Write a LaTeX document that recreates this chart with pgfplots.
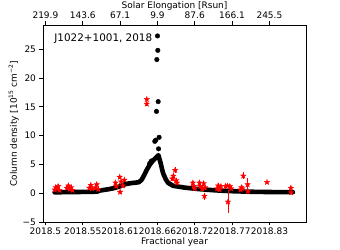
\documentclass[border=0pt]{standalone}
\usepackage{pgfplots}
\pgfplotsset{compat=1.18}
\usepackage{fontspec}
\setmainfont{DejaVu Sans}
\pgfdeclareplotmark{fstar}{%
  \pgfpathmoveto{\pgfqpointpolar{90}{\pgfplotmarksize}}%
  \pgfpathlineto{\pgfqpointpolar{126}{0.4\pgfplotmarksize}}%
  \pgfpathlineto{\pgfqpointpolar{162}{\pgfplotmarksize}}%
  \pgfpathlineto{\pgfqpointpolar{198}{0.4\pgfplotmarksize}}%
  \pgfpathlineto{\pgfqpointpolar{234}{\pgfplotmarksize}}%
  \pgfpathlineto{\pgfqpointpolar{270}{0.4\pgfplotmarksize}}%
  \pgfpathlineto{\pgfqpointpolar{306}{\pgfplotmarksize}}%
  \pgfpathlineto{\pgfqpointpolar{342}{0.4\pgfplotmarksize}}%
  \pgfpathlineto{\pgfqpointpolar{18}{\pgfplotmarksize}}%
  \pgfpathlineto{\pgfqpointpolar{54}{0.4\pgfplotmarksize}}%
  \pgfpathclose\pgfusepathqfillstroke}
\begin{document}
\begin{tikzpicture}[font=\fontsize{9}{10.5}\selectfont]
\pgfplotsset{common/.style={
  scale only axis, width=263pt, height=197pt,
  xmin=-1.3, xmax=139.6, ymin=-5, ymax=29.2,
  xtick={0,20,40,60,80,100,120},
  tick align=outside, major tick length=3.5pt,
  tick style={black, line width=0.6pt},
  axis line style={line width=0.6pt},
  /pgf/number format/assume math mode=true,
  tick label style={font=\fontsize{9}{10.5}\selectfont},
  label style={font=\fontsize{9}{10.5}\selectfont},
}}
\begin{axis}[common,
  xticklabels={2018.5,2018.55,2018.61,2018.66,2018.72,2018.77,2018.83},
  ytick={-5,0,5,10,15,20,25},
  yticklabels={−5,0,5,10,15,20,25},
  xtick pos=bottom, ytick pos=left,
  xticklabel style={yshift=1pt},
  xlabel={Fractional year},
  ylabel={Column density [10\textsuperscript{15} cm\textsuperscript{−2}]},
  xlabel style={yshift=4.5pt},
  ylabel style={yshift=-3pt},
  clip=false]
\coordinate (bl) at (rel axis cs:0,0);
\coordinate (tr) at (rel axis cs:1,1);
% model band
\addplot[black, line width=4.6pt, line cap=round, line join=round] coordinates {
(4.9,0.15)(10,0.18)(15,0.2)(20,0.22)(26,0.25)(28,0.3)(29,0.45)(31,0.55)(34,0.7)
(37,0.9)(40,1.2)(42,1.45)(43,1.6)(46,1.75)(50,1.9)(51.5,2.3)(53,3.2)(54.2,4.0)
(56,5.0)(57.5,5.6)(59,6.1)(60.5,6.6)(61.5,5.5)(63,3.5)(64.5,2.4)(65.7,1.8)
(68.3,1.3)(70,1.2)(72,1.1)(75,0.95)(78,0.85)(82,0.72)(86,0.62)
(90,0.52)(95,0.42)(100,0.35)(105,0.3)(110,0.25)(120,0.2)(132.6,0.18)};
% outlier points
\addplot[only marks, mark=*, mark size=2.3pt, black] coordinates {
(60.05,27.3)(60.2,24.8)(59.7,23.2)(60.4,15.9)(59.5,14.2)(60.9,9.7)(59.1,9.2)
(58.6,9.0)(60.6,7.7)(56.3,5.3)(55.8,5.1)(56.8,5.6)};
% red measurements
\addplot[only marks, red, mark=fstar, mark size=2.9pt, line width=0.3pt,
  error bars/.cd, y dir=both, y explicit, error bar style={red, line width=0.9pt}, error mark=none]
  table[x=x, y=y, y error=e] {
x y e
5.0 0.6 0.3
5.5 1.0 0.4
6.2 0.8 0.3
6.8 1.2 0.4
7.5 0.5 0.3
11.5 0.9 0.4
12.3 1.3 0.4
13.0 0.7 0.3
13.8 1.0 0.4
14.5 0.5 0.3
23.5 0.9 0.4
24.3 1.4 0.4
25.0 0.8 0.3
26.8 1.0 0.4
27.5 1.5 0.4
28.3 0.7 0.3
37.5 1.8 0.4
38.0 1.2 0.3
39.8 2.8 0.4
40.0 0.2 0.4
40.5 2.0 0.3
41.5 1.3 0.4
42.3 2.3 0.4
54.3 16.3 0.3
54.3 15.5 0.3
68.0 2.5 0.4
68.5 3.0 0.4
69.5 4.0 0.5
70.0 2.2 0.4
70.5 1.8 0.3
79.0 1.8 0.4
79.5 1.2 0.4
80.0 0.8 0.3
82.5 1.8 0.5
83.0 1.2 0.4
84.0 0.8 0.4
84.8 1.7 0.4
85.2 -0.5 0.6
85.5 1.0 0.4
92.0 0.8 0.4
92.5 1.3 0.4
93.3 0.6 0.3
94.0 1.2 0.4
96.5 1.2 0.4
97.5 1.3 0.3
97.8 -1.5 2.0
98.8 1.2 0.4
99.5 0.8 0.3
104.5 0.6 0.3
105.0 1.0 0.4
105.5 0.8 0.3
106.0 3.0 0.6
108.3 1.5 1.2
108.5 0.3 0.3
118.7 1.9 0.2
131.5 0.9 0.3
131.6 0.1 0.3
};
\node[anchor=north west, font=\fontsize{10.4}{12}\selectfont] at (rel axis cs:0.03,0.975) {J1022+1001, 2018};
\end{axis}
\begin{axis}[common,
  axis x line*=top, axis y line=none,
  xticklabels={219.9,143.6,67.1,9.9,87.6,166.1,245.5},
  xticklabel style={yshift=-0.5pt},
  xlabel={Solar Elongation [Rsun]},
  xlabel style={yshift=-6pt}]
\addplot[draw=none] coordinates {(0,0)};
\end{axis}
\pgfresetboundingbox
\path ([xshift=-43pt,yshift=-28pt]bl) rectangle ([xshift=34pt,yshift=25pt]tr);
\end{tikzpicture}
\end{document}
